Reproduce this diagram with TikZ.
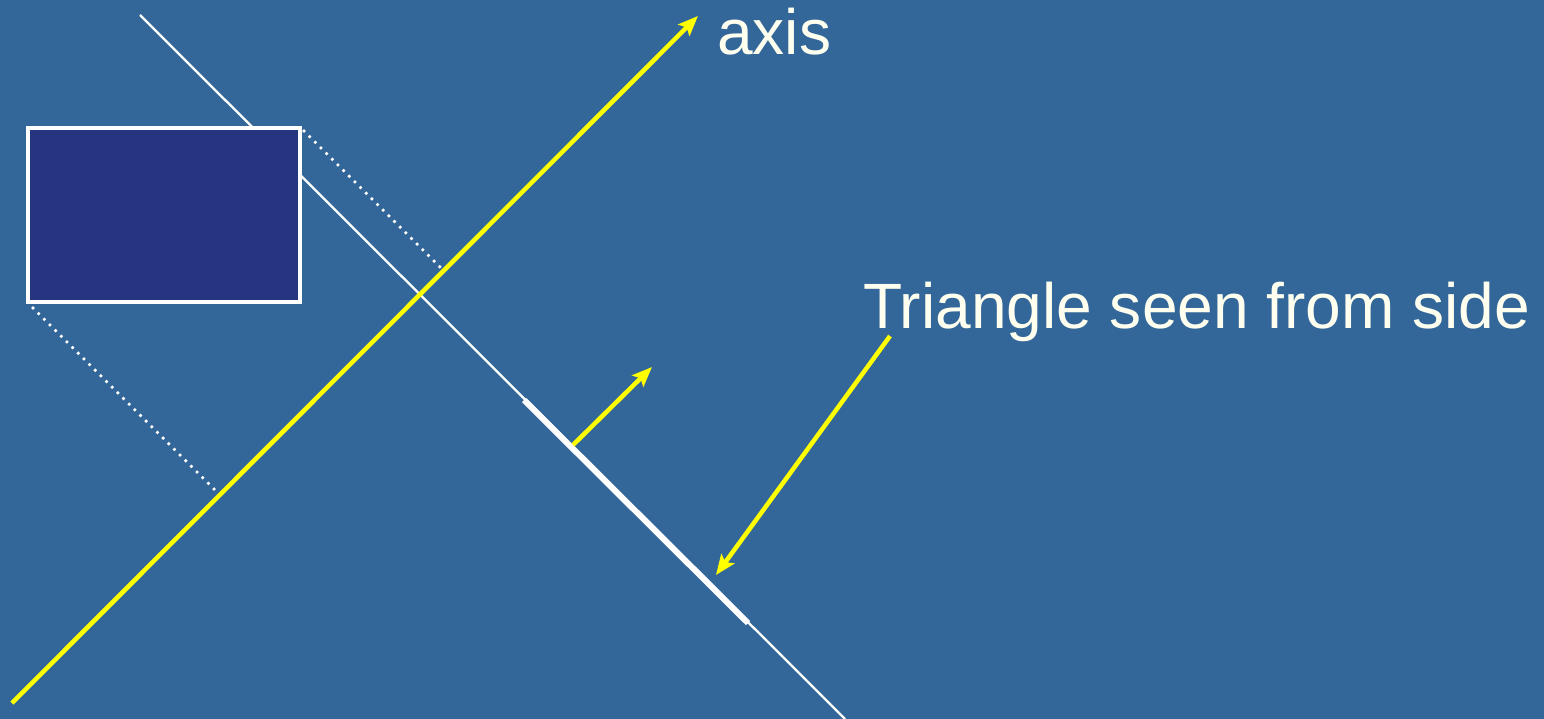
\documentclass[tikz,border=0pt]{standalone}
\usepackage{fontspec}
\setmainfont{Liberation Sans}
\usetikzlibrary{arrows.meta}
\definecolor{bg}{RGB}{51,102,153}
\definecolor{boxfill}{RGB}{38,53,128}
\definecolor{txt}{RGB}{255,255,240}
\definecolor{yel}{RGB}{255,255,0}
\tikzset{
  yarrow/.style={draw=yel, line width=4.5bp, -{Stealth[length=20bp,width=16bp,inset=4bp]}},
  thinline/.style={draw=white, line width=2.3bp},
  thickseg/.style={draw=white, line width=6bp},
  dots/.style={draw=white, line width=3.6bp, line cap=round, dash pattern=on 0pt off 8bp},
  lbl/.style={text=txt, font=\fontsize{64.3}{70}\selectfont, inner sep=0pt, anchor=base west},
  box/.style={draw=white, fill=boxfill, line width=4bp, inner sep=0pt}
}
\begin{document}
\begin{tikzpicture}[x=1bp,y=-1bp]
\fill[bg] (0,0) rectangle (1544,719);
\useasboundingbox (0,0) rectangle (1544,719);
% coordinates
\coordinate (pA) at (140,15);
\coordinate (pB) at (845,719);
\coordinate (sA) at (524,400);
\coordinate (sB) at (748,623);
\coordinate (axA) at (12,703);
\coordinate (axB) at (698,16);
\coordinate (nA) at (573,445);
\coordinate (nB) at (652,367);
\coordinate (tA) at (890,336);
\coordinate (tB) at (716,575);
\coordinate (d1A) at (304,131);
\coordinate (d1B) at (441,268);
\coordinate (d2A) at (33,308);
\coordinate (d2B) at (215,490);
% plane line
\draw[thinline] (pA) -- (pB);
\draw[thickseg] (sA) -- (sB);
% box
\node[box, minimum width=272bp, minimum height=174bp] (rect) at (164,215) {};
% dotted projections
\draw[dots] (d1A) -- (d1B);
\draw[dots] (d2A) -- (d2B);
% axis
\draw[yarrow] (axA) -- (axB);
\draw[yarrow] (nA) -- (nB);
\draw[yarrow] (tA) -- (tB);
% labels
\node[lbl] (axislbl) at (717,55) {axis};
\node[lbl] (trilbl) at (863,328) {Triangle seen from side};
\end{tikzpicture}
\end{document}
